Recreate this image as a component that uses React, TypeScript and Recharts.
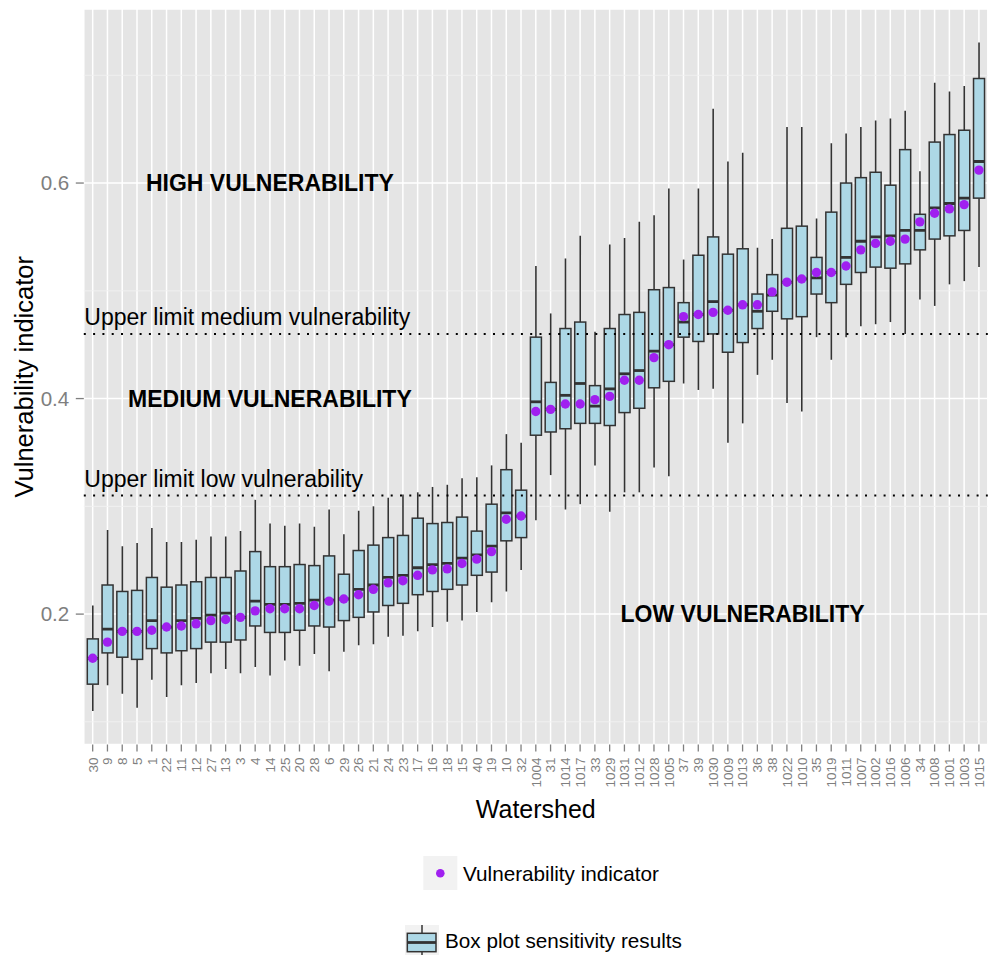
import React from 'react';
import {
  ComposedChart,
  Bar,
  Line,
  XAxis,
  YAxis,
  CartesianGrid,
  ReferenceLine,
  ReferenceDot,
  Label,
} from 'recharts';

// watersheds, ordered by vulnerability indicator
const watersheds = [
  '30', '9', '8', '5', '1', '22', '11', '12', '27', '13',
  '3', '4', '14', '25', '20', '28', '6', '29', '26', '21',
  '24', '23', '17', '16', '18', '15', '40', '19', '10', '32',
  '1004', '31', '1014', '1017', '33', '1029', '1031', '1012', '1028', '1005',
  '37', '39', '1030', '1009', '1013', '36', '38', '1022', '1010', '35',
  '1019', '1011', '1007', '1002', '1016', '1006', '34', '1008', '1001', '1003',
  '1015',
];

const whiskerLow = [
  0.110, 0.134, 0.126, 0.113, 0.139, 0.123, 0.134, 0.136, 0.145, 0.149,
  0.145, 0.151, 0.143, 0.157, 0.152, 0.163, 0.147, 0.165, 0.171, 0.172,
  0.179, 0.180, 0.184, 0.188, 0.193, 0.194, 0.202, 0.211, 0.221, 0.241,
  0.287, 0.329, 0.297, 0.302, 0.338, 0.295, 0.313, 0.313, 0.336, 0.328,
  0.414, 0.408, 0.409, 0.359, 0.377, 0.422, 0.436, 0.396, 0.388, 0.457,
  0.436, 0.457, 0.467, 0.469, 0.471, 0.460, 0.492, 0.486, 0.506, 0.509,
  0.522,
];

const lowerHinge = [
  0.135, 0.164, 0.160, 0.158, 0.168, 0.164, 0.166, 0.168, 0.174, 0.174,
  0.176, 0.189, 0.183, 0.183, 0.185, 0.189, 0.188, 0.194, 0.197, 0.202,
  0.208, 0.210, 0.218, 0.221, 0.223, 0.227, 0.236, 0.239, 0.268, 0.271,
  0.366, 0.369, 0.372, 0.377, 0.377, 0.375, 0.387, 0.391, 0.410, 0.416,
  0.457, 0.453, 0.460, 0.443, 0.452, 0.465, 0.481, 0.474, 0.476, 0.497,
  0.489, 0.506, 0.517, 0.522, 0.521, 0.525, 0.538, 0.548, 0.551, 0.556,
  0.586,
];

const medians = [
  0.159, 0.186, 0.184, 0.184, 0.194, 0.188, 0.194, 0.196, 0.199, 0.201,
  0.197, 0.212, 0.209, 0.209, 0.210, 0.213, 0.213, 0.214, 0.223, 0.227,
  0.234, 0.236, 0.243, 0.246, 0.247, 0.252, 0.255, 0.263, 0.294, 0.291,
  0.397, 0.390, 0.403, 0.414, 0.393, 0.409, 0.423, 0.426, 0.444, 0.450,
  0.471, 0.478, 0.490, 0.482, 0.487, 0.481, 0.496, 0.508, 0.511, 0.512,
  0.517, 0.531, 0.546, 0.550, 0.551, 0.556, 0.556, 0.577, 0.581, 0.586,
  0.620,
];

const upperHinge = [
  0.177, 0.227, 0.221, 0.222, 0.234, 0.225, 0.227, 0.230, 0.234, 0.234,
  0.240, 0.258, 0.244, 0.244, 0.246, 0.245, 0.254, 0.237, 0.259, 0.264,
  0.271, 0.273, 0.289, 0.284, 0.285, 0.290, 0.277, 0.302, 0.334, 0.315,
  0.457, 0.415, 0.465, 0.471, 0.412, 0.465, 0.478, 0.480, 0.501, 0.503,
  0.489, 0.533, 0.550, 0.534, 0.539, 0.497, 0.515, 0.558, 0.560, 0.531,
  0.573, 0.600, 0.605, 0.610, 0.598, 0.631, 0.571, 0.638, 0.645, 0.649,
  0.697,
];

const whiskerHigh = [
  0.208, 0.278, 0.263, 0.266, 0.280, 0.267, 0.267, 0.269, 0.272, 0.272,
  0.277, 0.306, 0.284, 0.282, 0.284, 0.281, 0.297, 0.274, 0.296, 0.300,
  0.308, 0.311, 0.313, 0.318, 0.320, 0.326, 0.327, 0.338, 0.367, 0.359,
  0.523, 0.479, 0.530, 0.551, 0.462, 0.543, 0.549, 0.564, 0.570, 0.595,
  0.529, 0.595, 0.669, 0.620, 0.628, 0.540, 0.548, 0.652, 0.652, 0.567,
  0.637, 0.646, 0.652, 0.658, 0.660, 0.667, 0.611, 0.693, 0.685, 0.690,
  0.7305,
];

const indicator = [
  0.159, 0.174, 0.184, 0.184, 0.185, 0.188, 0.189, 0.191, 0.194, 0.195,
  0.197, 0.203, 0.205, 0.205, 0.205, 0.208, 0.212, 0.214, 0.218, 0.223,
  0.229, 0.231, 0.236, 0.241, 0.242, 0.247, 0.251, 0.258, 0.288, 0.291,
  0.388, 0.390, 0.395, 0.395, 0.399, 0.402, 0.417, 0.417, 0.438, 0.450,
  0.476, 0.478, 0.480, 0.482, 0.487, 0.487, 0.499, 0.508, 0.511, 0.517,
  0.517, 0.523, 0.538, 0.544, 0.546, 0.548, 0.564, 0.572, 0.576, 0.580,
  0.612,
];

const yTicks = [0.2, 0.4, 0.6];
const yMinorTicks = [0.1, 0.3, 0.5, 0.7];
const yDomain = [0.079, 0.7615];
const lowLimit = 0.31;
const mediumLimit = 0.46;

const data = watersheds.map((w, i) => ({
  watershed: w,
  range: [whiskerLow[i], whiskerHigh[i]],
  low: whiskerLow[i],
  q1: lowerHinge[i],
  median: medians[i],
  q3: upperHinge[i],
  high: whiskerHigh[i],
  indicator: indicator[i],
}));

const FONT = '"Liberation Sans", Arial, Helvetica, sans-serif';
const BOX_FILL = '#ADD8E6';
const BOX_LINE = '#333333';
const POINT = '#A020F0';
const AXIS_GREY = '#7F7F7F';

// whole box-and-whisker drawn inside the [low, high] range bar
const BoxShape = (props: any) => {
  const { x, y, width, height, payload } = props;
  if (height == null || !payload) return null;
  const top = Math.min(y, y + height);
  const bottom = Math.max(y, y + height);
  const { low, high, q1, q3, median } = payload;
  const toY = (v: number) => bottom - ((v - low) / (high - low)) * (bottom - top);
  const cx = x + width / 2;
  const half = 5.5;
  return (
    <g>
      <line x1={cx} x2={cx} y1={toY(high)} y2={toY(q3)} stroke={BOX_LINE} strokeWidth={1.6} />
      <line x1={cx} x2={cx} y1={toY(q1)} y2={toY(low)} stroke={BOX_LINE} strokeWidth={1.6} />
      <rect
        x={cx - half}
        y={toY(q3)}
        width={half * 2}
        height={toY(q1) - toY(q3)}
        fill={BOX_FILL}
        stroke={BOX_LINE}
        strokeWidth={1.5}
      />
      <line x1={cx - half} x2={cx + half} y1={toY(median)} y2={toY(median)} stroke={BOX_LINE} strokeWidth={2.8} />
    </g>
  );
};

const XTick = (props: any) => {
  const { x, y, payload } = props;
  return (
    <text
      x={x}
      y={y}
      dy="0.36em"
      transform={`rotate(-90 ${x} ${y})`}
      textAnchor="end"
      fill={AXIS_GREY}
      fontSize={13.5}
      fontFamily={FONT}
    >
      {payload.value}
    </text>
  );
};

const XTitle = (props: any) => {
  const { viewBox } = props;
  return (
    <text x={viewBox.x + viewBox.width / 2} y={viewBox.y + 73.5} textAnchor="middle" fontSize={25} fontFamily={FONT} fill="#000">
      Watershed
    </text>
  );
};

const YTitle = (props: any) => {
  const { viewBox } = props;
  const tx = viewBox.x + 33;
  const ty = viewBox.y + viewBox.height / 2;
  return (
    <text x={tx} y={ty} transform={`rotate(-90 ${tx} ${ty})`} textAnchor="middle" fontSize={25.5} fontFamily={FONT} fill="#000">
      Vulnerability indicator
    </text>
  );
};

const limitLabel = (text: string) => (props: any) => {
  const { viewBox } = props;
  return (
    <text x={viewBox.x + 0.5} y={viewBox.y - 8.5} fontSize={23} fontFamily={FONT} fill="#000">
      {text}
    </text>
  );
};

const zoneText = (text: string) => (props: any) => (
  <text x={props.cx} y={props.cy} dy="0.36em" textAnchor="middle" fontSize={23} fontWeight="bold" fontFamily={FONT} fill="#000">
    {text}
  </text>
);

export default function App() {
  return (
    <div
      style={{
        position: 'absolute',
        left: 0,
        top: 0,
        width: 989,
        height: 955,
        overflow: 'hidden',
        background: '#FFFFFF',
        fontFamily: FONT,
      }}
    >
      <ComposedChart
        width={989}
        height={830}
        data={data}
        margin={{ top: 9, right: 1.2, bottom: 0, left: 0 }}
        barCategoryGap={0}
      >
        <CartesianGrid fill="#E5E5E5" stroke="#FFFFFF" strokeWidth={1.5} />
        <CartesianGrid horizontalValues={yMinorTicks} vertical={false} stroke="#F2F2F2" strokeWidth={0.9} />
        <XAxis
          dataKey="watershed"
          interval={0}
          height={85.5}
          padding={{ left: 1.5, right: 1.5 }}
          axisLine={false}
          tickSize={7}
          tickMargin={6}
          tickLine={{ stroke: AXIS_GREY, strokeWidth: 1.3 }}
          tick={<XTick />}
          label={<Label content={XTitle} />}
        />
        <YAxis
          type="number"
          domain={yDomain}
          allowDataOverflow
          ticks={yTicks}
          width={83.8}
          axisLine={false}
          tickSize={8}
          tickMargin={6.5}
          tickLine={{ stroke: AXIS_GREY, strokeWidth: 1.3 }}
          tick={{ fill: AXIS_GREY, fontSize: 20.6, fontFamily: FONT }}
          tickFormatter={(v: number) => v.toFixed(1)}
          label={<Label content={YTitle} />}
        />
        <Bar dataKey="range" barSize={13} shape={BoxShape} isAnimationActive={false} legendType="none" />
        <Line
          dataKey="indicator"
          stroke="none"
          dot={{ r: 4.7, fill: POINT, stroke: 'none' }}
          activeDot={false}
          isAnimationActive={false}
          legendType="none"
        />
        <ReferenceLine
          y={lowLimit}
          stroke="#000"
          strokeWidth={2}
          strokeDasharray="2 7.3"
          label={<Label content={limitLabel('Upper limit low vulnerability')} />}
        />
        <ReferenceLine
          y={mediumLimit}
          stroke="#000"
          strokeWidth={2}
          strokeDasharray="2 7.3"
          label={<Label content={limitLabel('Upper limit medium vulnerability')} />}
        />
        <ReferenceDot x="14" y={0.6} r={0} shape={zoneText('HIGH VULNERABILITY')} />
        <ReferenceDot x="14" y={0.4} r={0} shape={zoneText('MEDIUM VULNERABILITY')} />
        <ReferenceDot x="1013" y={0.2} r={0} shape={zoneText('LOW VULNERABILITY')} />
      </ComposedChart>

      {/* legends */}
      <svg
        width={989}
        height={125}
        style={{ position: 'absolute', left: 0, top: 830 }}
        fontFamily={FONT}
      >
        <rect x={423.3} y={26} width={34} height={34} fill="#F2F2F2" />
        <circle cx={440.3} cy={43.3} r={4.3} fill={POINT} />
        <text x={463} y={50.5} fontSize={20.7} fill="#000">Vulnerability indicator</text>

        <rect x={405} y={95} width={34} height={34} fill="#F2F2F2" />
        <line x1={422} x2={422} y1={95} y2={103.3} stroke={BOX_LINE} strokeWidth={1.5} />
        <line x1={422} x2={422} y1={121.7} y2={129} stroke={BOX_LINE} strokeWidth={1.5} />
        <rect x={407.3} y={103.3} width={28.7} height={18.4} fill={BOX_FILL} stroke={BOX_LINE} strokeWidth={1.5} />
        <line x1={407.3} x2={436} y1={112.5} y2={112.5} stroke={BOX_LINE} strokeWidth={2.8} />
        <text x={445} y={118} fontSize={20.7} fill="#000">Box plot sensitivity results</text>
      </svg>
    </div>
  );
}
